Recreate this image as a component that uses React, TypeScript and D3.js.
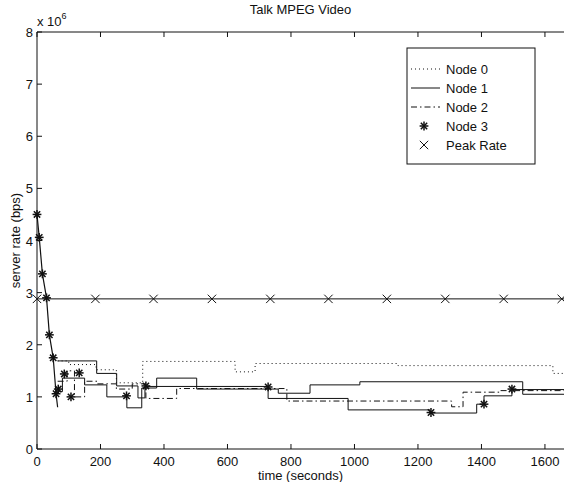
import React from "react";
import * as d3 from "d3";

// start-up ramp shared by all nodes (seconds, x1e6 bps)
const rampTimes = [0, 7, 17, 30, 39, 51, 60, 65];
const rampValues = [4.5, 4.06, 3.36, 2.9, 2.19, 1.75, 1.06, 0.8];

// step changes after the ramp
const node0Times = [65, 100, 186, 250, 333, 624, 687, 1137, 1625];
const node0Values = [1.69, 1.62, 1.52, 1.27, 1.68, 1.48, 1.64, 1.6, 1.45];

const node1Times = [65, 80, 150, 220, 283, 330, 377, 503, 760, 860, 1017, 1530];
const node1Values = [1.1, 1.36, 1.23, 1.0, 0.79, 1.17, 1.36, 1.15, 1.07, 1.23, 1.29, 1.05];

const node2Times = [65, 95, 118, 150, 190, 250, 300, 343, 440, 787, 1306, 1342, 1460];
const node2Values = [1.3, 1.5, 1.0, 1.3, 1.25, 1.15, 1.25, 0.97, 1.16, 0.92, 0.81, 1.09, 1.12];

const node3Times = [65, 188, 251, 318, 340, 728, 980, 1238, 1385, 1408, 1496];
const node3Values = [1.69, 1.45, 1.21, 0.98, 1.2, 0.97, 0.75, 0.69, 0.86, 1.02, 1.14];

const node3MarkTimes = [0, 7, 17, 30, 39, 51, 60, 67, 86, 107, 133, 282, 343, 728, 1241, 1408, 1496];
const node3MarkValues = [4.5, 4.06, 3.36, 2.9, 2.19, 1.75, 1.06, 1.15, 1.44, 1.0, 1.46, 1.02, 1.21, 1.19, 0.7, 0.86, 1.15];

const peakRate = 2.88;
const peakMarkTimes = [0, 184, 367, 551, 735, 918, 1102, 1286, 1470, 1653];

const xTicks = [0, 200, 400, 600, 800, 1000, 1200, 1400, 1600];
const yTicks = [0, 1, 2, 3, 4, 5, 6, 7, 8];
const legendLabels = ["Node 0", "Node 1", "Node 2", "Node 3", "Peak Rate"];

const W = 564;
const H = 482;
const left = 37;
const right = 564;
const top = 32;
const bottom = 449;
const tMax = 1660;
const ink = "#111";
const font = "'Liberation Sans', Arial, sans-serif";

const x = d3.scaleLinear().domain([0, tMax]).range([left, right]);
const y = d3.scaleLinear().domain([0, 8]).range([bottom, top]);

type Pt = [number, number];

const stepLine = d3
  .line<Pt>()
  .x((d) => x(d[0]))
  .y((d) => y(d[1]))
  .curve(d3.curveStepAfter);

const straightLine = d3
  .line<Pt>()
  .x((d) => x(d[0]))
  .y((d) => y(d[1]));

function steps(times: number[], values: number[]): Pt[] {
  const pts: Pt[] = times.map((t, i) => [t, values[i]]);
  pts.push([tMax, values[values.length - 1]]);
  return pts;
}

const ramp: Pt[] = rampTimes.map((t, i) => [t, rampValues[i]]);

function Star({ cx, cy, r = 4.4 }: { cx: number; cy: number; r?: number }) {
  const d = r * 0.72;
  return (
    <g stroke={ink} strokeWidth={1.5}>
      <line x1={cx - r} y1={cy} x2={cx + r} y2={cy} />
      <line x1={cx} y1={cy - r} x2={cx} y2={cy + r} />
      <line x1={cx - d} y1={cy - d} x2={cx + d} y2={cy + d} />
      <line x1={cx - d} y1={cy + d} x2={cx + d} y2={cy - d} />
    </g>
  );
}

function Cross({ cx, cy, r = 4.2 }: { cx: number; cy: number; r?: number }) {
  return (
    <g stroke={ink} strokeWidth={1}>
      <line x1={cx - r} y1={cy - r} x2={cx + r} y2={cy + r} />
      <line x1={cx - r} y1={cy + r} x2={cx + r} y2={cy - r} />
    </g>
  );
}

const dotted = "1,3";
const dashDot = "6,3,1.5,3";

export default function App() {
  const tick = 5;
  const lgX = 407;
  const lgY = 48;
  const lgW = 128;
  const lgH = 116;
  const rowY = (i: number) => 69 + i * 19;

  return (
    <svg
      width={W}
      height={H}
      style={{ position: "absolute", left: 0, top: 0, background: "#fff" }}
      fontFamily={font}
    >
      <rect x={0} y={0} width={W} height={H} fill="#fff" />

      {/* series */}
      <g fill="none" stroke={ink} strokeWidth={1}>
        <path d={stepLine(steps(node0Times, node0Values)) || ""} strokeDasharray={dotted} />
        <path d={stepLine(steps(node2Times, node2Values)) || ""} strokeDasharray={dashDot} />
        <path d={stepLine(steps(node1Times, node1Values)) || ""} />
        <path d={stepLine(steps(node3Times, node3Values)) || ""} />
        <path d={straightLine(ramp) || ""} strokeWidth={1.2} />
        <line x1={x(0)} x2={x(tMax)} y1={y(peakRate)} y2={y(peakRate)} />
      </g>
      {peakMarkTimes.map((t, i) => (
        <Cross key={"p" + i} cx={x(t)} cy={y(peakRate)} />
      ))}
      {node3MarkTimes.map((t, i) => (
        <Star key={"s" + i} cx={x(t)} cy={y(node3MarkValues[i])} />
      ))}

      {/* axes */}
      <g stroke={ink} strokeWidth={1} fill="none">
        <line x1={left} x2={right} y1={bottom} y2={bottom} />
        <line x1={left} x2={right} y1={top} y2={top} />
        <line x1={left} x2={left} y1={top} y2={bottom} />
        {xTicks.map((t) => (
          <g key={"xt" + t}>
            <line x1={x(t)} x2={x(t)} y1={bottom} y2={bottom - tick} />
            <line x1={x(t)} x2={x(t)} y1={top} y2={top + tick} />
          </g>
        ))}
        {yTicks.map((v) => (
          <line key={"yt" + v} x1={left} x2={left + tick} y1={y(v)} y2={y(v)} />
        ))}
      </g>
      <g fontSize={13} fill={ink}>
        {xTicks.map((t) => (
          <text key={"xl" + t} x={x(t)} y={bottom + 17} textAnchor="middle">
            {t}
          </text>
        ))}
        {yTicks.map((v) => (
          <text key={"yl" + v} x={left - 4} y={y(v) + 5} textAnchor="end">
            {v}
          </text>
        ))}
        <text x={37} y={26}>
          x 10
          <tspan dy={-7} fontSize={9}>
            6
          </tspan>
        </text>
        <text x={(left + right) / 2} y={14} textAnchor="middle">
          Talk MPEG Video
        </text>
        <text x={(left + right) / 2} y={480} textAnchor="middle">
          time (seconds)
        </text>
        <text
          transform={`translate(20, ${(top + bottom) / 2}) rotate(-90)`}
          textAnchor="middle"
        >
          server rate (bps)
        </text>
      </g>

      {/* legend */}
      <rect x={lgX} y={lgY} width={lgW} height={lgH} fill="#fff" stroke={ink} strokeWidth={1} />
      <g stroke={ink} strokeWidth={1}>
        <line x1={411} x2={440} y1={rowY(0)} y2={rowY(0)} strokeDasharray={dotted} />
        <line x1={411} x2={440} y1={rowY(1)} y2={rowY(1)} />
        <line x1={411} x2={440} y1={rowY(2)} y2={rowY(2)} strokeDasharray={dashDot} />
      </g>
      <Star cx={424} cy={rowY(3)} />
      <Cross cx={424} cy={rowY(4)} />
      <g fontSize={13} fill={ink}>
        {legendLabels.map((s, i) => (
          <text key={s} x={446} y={rowY(i) + 5}>
            {s}
          </text>
        ))}
      </g>
    </svg>
  );
}
